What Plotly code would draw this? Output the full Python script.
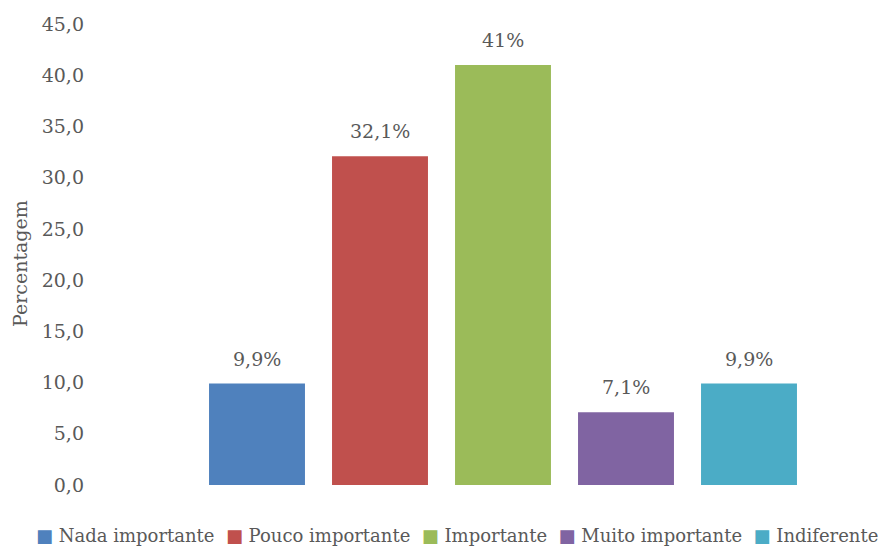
import plotly.graph_objects as go

# Survey response shares (percent)
categories = ["Nada importante", "Pouco importante", "Importante", "Muito importante", "Indiferente"]
values = [9.9, 32.1, 41, 7.1, 9.9]
colors = ["#4F81BD", "#C0504D", "#9BBB59", "#8064A2", "#4BACC6"]
y_ticks = [0, 5, 10, 15, 20, 25, 30, 35, 40, 45]

FONT = "DejaVu Serif"
GRAY = "#595959"
SIZE = 19
LEGEND_SIZE = 18


def pct_label(v):
    return f"{v:g}".replace(".", ",") + "%"


fig = go.Figure()
for i, (cat, val, col) in enumerate(zip(categories, values, colors)):
    fig.add_trace(go.Bar(
        x=[i], y=[val], name=cat, width=0.78,
        marker=dict(color=col, line=dict(width=0)),
        showlegend=False, hoverinfo="skip",
    ))
    fig.add_annotation(
        x=i, y=val, text=pct_label(val), showarrow=False,
        yanchor="middle", yshift=25,
        font=dict(family=FONT, size=SIZE, color=GRAY),
    )

# Legend row as text with coloured square markers
legend_parts = [
    f"<span style='color:{c}'>■</span>&nbsp;{cat}" for cat, c in zip(categories, colors)
]
fig.add_annotation(
    xref="paper", yref="paper", x=0.0, y=0.0,
    text="&nbsp;&nbsp;".join(legend_parts), showarrow=False,
    font=dict(family=FONT, size=LEGEND_SIZE, color=GRAY),
)

# Vertical axis title
fig.add_annotation(
    xref="paper", yref="paper", x=0.0, y=0.5,
    text="Percentagem", textangle=-90, showarrow=False,
    font=dict(family=FONT, size=SIZE, color=GRAY),
)

L, R, T, B = 95, 11, 24, 64
W, H = 881, 549
pitch = 123.0
x_min = -(257 - L) / pitch
x_max = x_min + (W - L - R) / pitch

fig.update_layout(
    width=W, height=H,
    margin=dict(l=L, r=R, t=T, b=B),
    paper_bgcolor="white", plot_bgcolor="white",
    separators=",.",
    font=dict(family=FONT, size=SIZE, color=GRAY),
    bargap=0.22,
    xaxis=dict(range=[x_min, x_max], showticklabels=False, showgrid=False,
               zeroline=False, showline=False, ticks=""),
    yaxis=dict(range=[0, 45], tickvals=y_ticks, tickformat=".1f",
               showgrid=False, zeroline=False, showline=False, ticks="",
               ticklabelstandoff=10,
               tickfont=dict(family=FONT, size=SIZE, color=GRAY)),
)

# Reposition the two text annotations in pixel terms of the full page
plot_w = W - L - R
plot_h = H - T - B
anns = list(fig.layout.annotations)
legend_ann = anns[-2]
legend_ann.update(x=(457 - L) / plot_w, y=-(535 - (H - B)) / plot_h,
                  xanchor="center", yanchor="middle")
title_ann = anns[-1]
title_ann.update(x=(20 - L) / plot_w, y=((H - B) - 264) / plot_h,
                 xanchor="center", yanchor="middle")

fig.write_html("out.html")
